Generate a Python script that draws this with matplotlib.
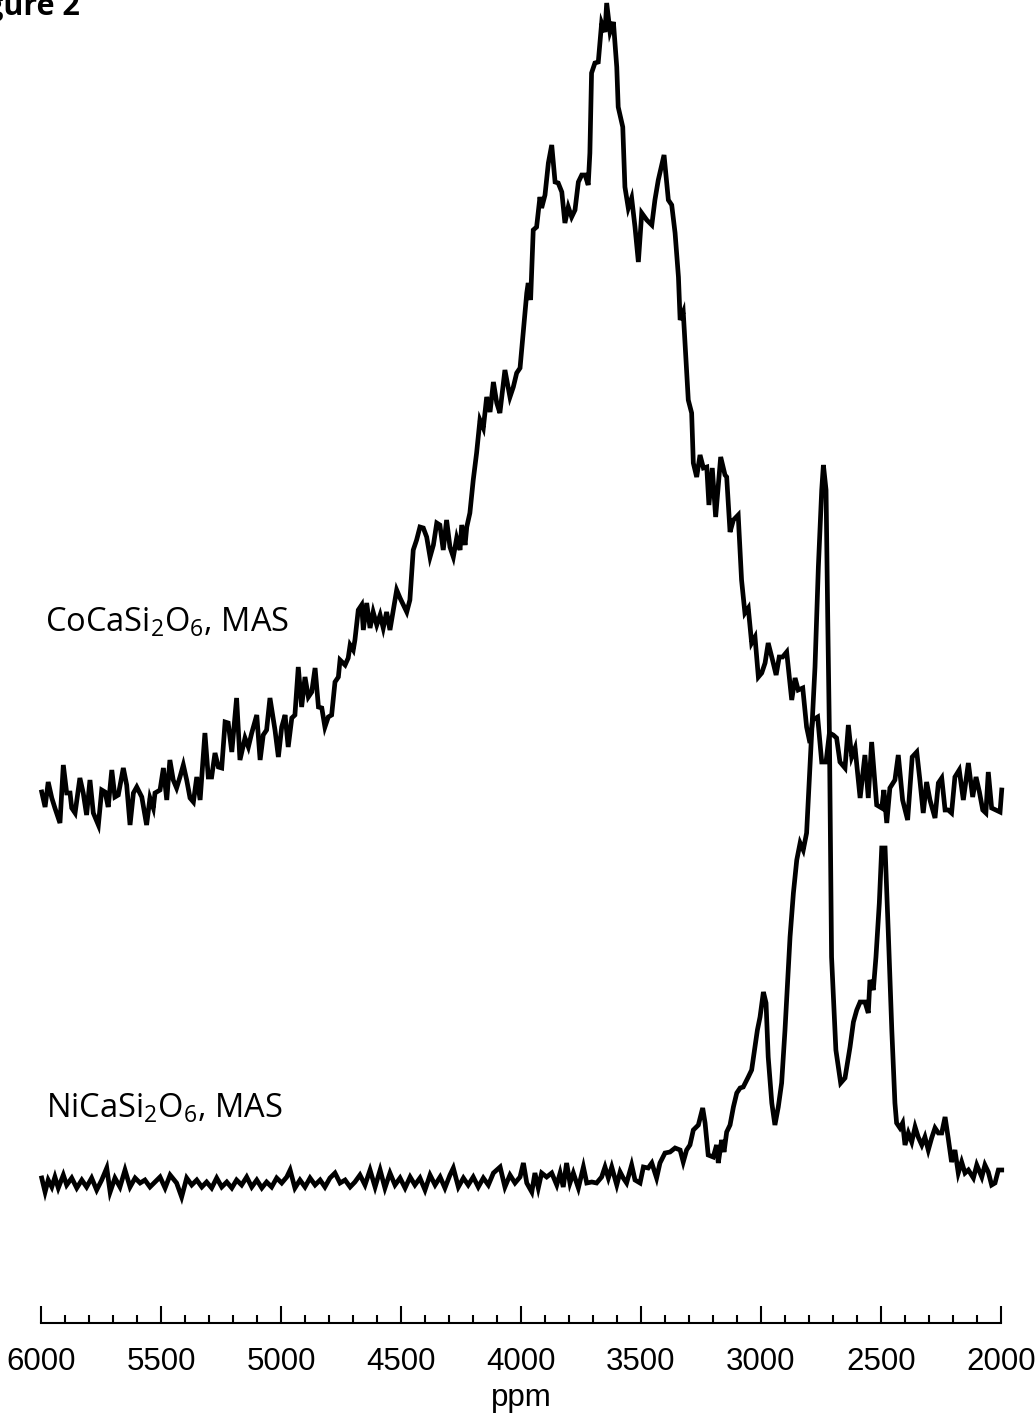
import matplotlib
matplotlib.use("Agg")
import matplotlib.pyplot as plt
from matplotlib.ticker import MultipleLocator

plt.rcParams['mathtext.fontset'] = 'custom'
plt.rcParams['mathtext.rm'] = 'Open Sans'
plt.rcParams['mathtext.it'] = 'Open Sans'

# CoCaSi2O6 MAS spectrum (shift in ppm, intensity in arbitrary units)
co_ppm = [5997, 5983, 5970, 5955, 5942, 5921, 5907, 5893, 5879, 5872, 5858, 5838, 5824, 5810,
          5796, 5782, 5761, 5747, 5733, 5720, 5705, 5692, 5678, 5657, 5643, 5629, 5615, 5601,
          5580, 5560, 5546, 5532, 5525, 5504, 5490, 5476, 5463, 5449, 5435, 5421, 5407, 5393,
          5379, 5365, 5351, 5337, 5317, 5303, 5289, 5275, 5261, 5247, 5233, 5220, 5205, 5185,
          5171, 5150, 5136, 5122, 5101, 5087, 5074, 5060, 5046, 5025, 5011, 4997, 4983, 4970,
          4955, 4942, 4928, 4914, 4900, 4886, 4872, 4858, 4844, 4830, 4817, 4803, 4789, 4775,
          4761, 4754, 4733, 4720, 4712, 4699, 4692, 4678, 4664, 4657, 4643, 4629, 4616, 4601,
          4587, 4574, 4560, 4546, 4532, 4518, 4504, 4490, 4476, 4463, 4449, 4435, 4421, 4407,
          4393, 4379, 4365, 4351, 4338, 4324, 4310, 4296, 4282, 4268, 4254, 4247, 4233, 4226,
          4213, 4199, 4185, 4171, 4157, 4143, 4129, 4115, 4101, 4088, 4067, 4046, 4032, 4018,
          4004, 3990, 3976, 3970, 3960, 3949, 3935, 3921, 3914, 3900, 3886, 3872, 3858, 3845,
          3830, 3817, 3803, 3789, 3775, 3761, 3747, 3733, 3720, 3713, 3706, 3692, 3678, 3664,
          3650, 3643, 3629, 3615, 3601, 3595, 3576, 3567, 3553, 3539, 3525, 3511, 3497, 3476,
          3455, 3442, 3428, 3404, 3386, 3372, 3358, 3344, 3337, 3324, 3303, 3289, 3282, 3268,
          3254, 3240, 3226, 3217, 3203, 3189, 3168, 3150, 3143, 3129, 3115, 3095, 3081, 3067,
          3053, 3039, 3025, 3011, 2997, 2983, 2970, 2952, 2937, 2924, 2910, 2893, 2872, 2858,
          2845, 2826, 2810, 2796, 2785, 2764, 2747, 2729, 2715, 2699, 2685, 2671, 2650, 2636,
          2622, 2608, 2587, 2567, 2553, 2539, 2518, 2497, 2488, 2476, 2463, 2442, 2428, 2410,
          2389, 2370, 2351, 2338, 2324, 2310, 2296, 2275, 2261, 2247, 2233, 2220, 2206, 2192,
          2174, 2157, 2136, 2118, 2104, 2090, 2076, 2063, 2053, 2039, 2021, 2004, 1997]
co_int = [13, -2, 23, 7, -3, -18, 40, 12, 12, -3, -8, 27, 12, -10,
          25, -8, -20, 15, 13, -2, 35, 8, 10, 37, 20, -20, 12, 18,
          8, -20, 7, -3, 12, 15, 37, 5, 45, 25, 17, 28, 40, 25,
          7, 3, 28, 5, 72, 28, 28, 52, 38, 37, 83, 82, 53, 107,
          45, 67, 58, 72, 90, 45, 70, 75, 107, 75, 48, 78, 90, 58,
          87, 90, 138, 98, 128, 108, 113, 137, 98, 97, 78, 88, 90, 123,
          128, 145, 140, 147, 160, 155, 165, 195, 200, 175, 202, 177, 193, 180,
          190, 177, 193, 175, 195, 215, 207, 200, 193, 205, 255, 265, 278, 277,
          268, 248, 260, 282, 280, 255, 285, 258, 248, 267, 255, 280, 260, 278,
          292, 325, 352, 385, 377, 408, 393, 423, 402, 392, 435, 408, 418, 432,
          437, 475, 512, 522, 505, 575, 578, 608, 597, 610, 642, 660, 623, 622,
          613, 582, 598, 588, 595, 623, 630, 630, 620, 652, 732, 742, 743, 782,
          773, 802, 773, 783, 738, 698, 678, 618, 597, 607, 578, 543, 592, 585,
          580, 605, 625, 650, 605, 600, 572, 528, 485, 493, 405, 392, 342, 328,
          350, 337, 338, 300, 337, 288, 348, 330, 328, 273, 285, 290, 225, 192,
          197, 162, 168, 128, 132, 142, 162, 145, 130, 148, 148, 153, 105, 127,
          115, 117, 78, 62, 85, 88, 43, 43, 72, 70, 67, 43, 37, 80,
          48, 57, 7, 50, 7, 63, 0, -3, 15, -18, 17, 25, 50, 5,
          -15, 48, 53, 25, -8, 23, 5, -13, 22, 27, -5, -5, -8, 28,
          35, 5, 42, 8, 28, 13, -5, -8, 33, -3, -5, -7, 15]

# NiCaSi2O6 MAS spectrum
ni_ppm = [5997, 5983, 5970, 5955, 5942, 5928, 5907, 5893, 5872, 5851, 5830, 5810, 5789, 5768,
          5747, 5726, 5712, 5692, 5671, 5650, 5629, 5608, 5587, 5567, 5546, 5525, 5504, 5483,
          5462, 5435, 5414, 5393, 5372, 5351, 5330, 5310, 5289, 5268, 5247, 5226, 5205, 5185,
          5164, 5143, 5122, 5101, 5080, 5060, 5039, 5018, 4997, 4976, 4962, 4942, 4921, 4900,
          4879, 4858, 4837, 4817, 4796, 4775, 4754, 4733, 4712, 4692, 4671, 4650, 4629, 4608,
          4587, 4567, 4546, 4525, 4504, 4483, 4462, 4442, 4421, 4400, 4379, 4358, 4337, 4317,
          4296, 4282, 4261, 4240, 4220, 4199, 4178, 4157, 4136, 4115, 4087, 4067, 4046, 4025,
          4004, 3990, 3976, 3955, 3942, 3928, 3914, 3893, 3872, 3851, 3837, 3824, 3810, 3796,
          3782, 3761, 3740, 3726, 3705, 3685, 3664, 3650, 3636, 3622, 3601, 3587, 3574, 3560,
          3539, 3525, 3504, 3490, 3470, 3455, 3435, 3421, 3400, 3379, 3358, 3337, 3324, 3310,
          3296, 3282, 3261, 3243, 3233, 3220, 3199, 3185, 3178, 3164, 3154, 3143, 3129, 3115,
          3101, 3087, 3074, 3053, 3039, 3025, 3015, 3004, 2990, 2979, 2970, 2955, 2942, 2928,
          2914, 2900, 2879, 2865, 2851, 2837, 2824, 2810, 2789, 2775, 2761, 2747, 2740, 2729,
          2722, 2715, 2706, 2688, 2668, 2650, 2629, 2615, 2601, 2587, 2567, 2553, 2546, 2532,
          2521, 2507, 2497, 2483, 2470, 2455, 2442, 2435, 2421, 2410, 2400, 2386, 2372, 2358,
          2345, 2330, 2317, 2303, 2289, 2275, 2261, 2247, 2233, 2220, 2206, 2192, 2178, 2164,
          2150, 2136, 2115, 2101, 2080, 2067, 2053, 2039, 2025, 2011, 1997]
ni_int = [5, -9, 3, -4, 6, -5, 8, -2, 5, -5, 3, -4, 5, -7,
          3, 15, -9, 5, -4, 13, -4, 5, 0, 3, -4, 1, 6, -5,
          8, 0, -14, 5, -2, 3, -4, 1, -5, 5, -4, 1, -5, 3,
          -2, 6, -4, 3, -5, 1, -4, 5, 0, 6, 13, -5, 3, -4,
          5, -2, 3, -4, 5, 10, 0, 3, -4, 1, 8, -2, 13, -4,
          13, -5, 10, -2, 5, -5, 6, -2, 5, -7, 8, -2, 6, -5,
          8, 15, -4, 5, -2, 6, -4, 5, -2, 10, 16, -4, 8, 0,
          6, 20, 0, -9, 10, -5, 10, 6, 10, -2, 10, -4, 20, 0,
          10, -5, 16, 0, 1, 0, 6, 16, 5, 16, -2, 11, 5, 0,
          18, 3, 0, 16, 15, 20, 5, 20, 30, 31, 35, 33, 21, 33,
          38, 53, 58, 75, 60, 28, 26, 38, 20, 43, 31, 51, 58, 76,
          90, 95, 96, 106, 113, 136, 153, 166, 191, 180, 126, 80, 58, 76,
          100, 153, 246, 290, 323, 340, 333, 350, 450, 516, 616, 693, 718, 693,
          566, 450, 226, 133, 100, 105, 136, 161, 173, 181, 181, 170, 203, 193,
          226, 280, 335, 335, 253, 153, 80, 60, 55, 60, 38, 50, 41, 56,
          46, 38, 46, 33, 45, 55, 50, 50, 66, 45, 21, 33, 10, 21,
          10, 13, 5, 18, 6, 18, 11, -2, 0, 13, 13]

co_offset = 518
ni_offset = 140

fig = plt.figure(figsize=(10.36, 14.16), dpi=100)
ax = fig.add_axes([41 / 1036, 93 / 1416, 960 / 1036, 1323 / 1416])

ax.plot(co_ppm, [v + co_offset for v in co_int], color='black', lw=3.4,
        solid_joinstyle='miter', clip_on=False)
ax.plot(ni_ppm, [v + ni_offset for v in ni_int], color='black', lw=3.4,
        solid_joinstyle='miter', clip_on=False)

ax.set_xlim(6000, 2000)
ax.set_ylim(0, 1323)

for side in ['top', 'left', 'right']:
    ax.spines[side].set_visible(False)
ax.spines['bottom'].set_linewidth(1.5)
ax.set_yticks([])
ax.xaxis.set_major_locator(MultipleLocator(500))
ax.xaxis.set_minor_locator(MultipleLocator(100))
ax.tick_params(axis='x', which='major', direction='in', length=12, width=1.5, pad=17,
               labelsize=22.5)
ax.tick_params(axis='x', which='minor', direction='in', length=6, width=1.5)
for lab in ax.get_xticklabels():
    lab.set_fontfamily('Liberation Sans')

fig.text(521 / 1036, 1 - 1398 / 1416, 'ppm', ha='center', va='center',
         fontsize=22.5, family='Liberation Sans')

fig.text(45 / 1036, 1 - 632 / 1416, r'CoCaSi$_2$O$_6$, MAS', ha='left', va='baseline',
         fontsize=23.5, family='Open Sans')
fig.text(46 / 1036, 1 - 1118 / 1416, r'NiCaSi$_2$O$_6$, MAS', ha='left', va='baseline',
         fontsize=23.5, family='Open Sans')

fig.text(80 / 1036, 1 - 15 / 1416, 'Figure 2', ha='right', va='baseline',
         fontsize=22, fontweight='bold', family='Open Sans')

fig.savefig('out.png', dpi=100)
